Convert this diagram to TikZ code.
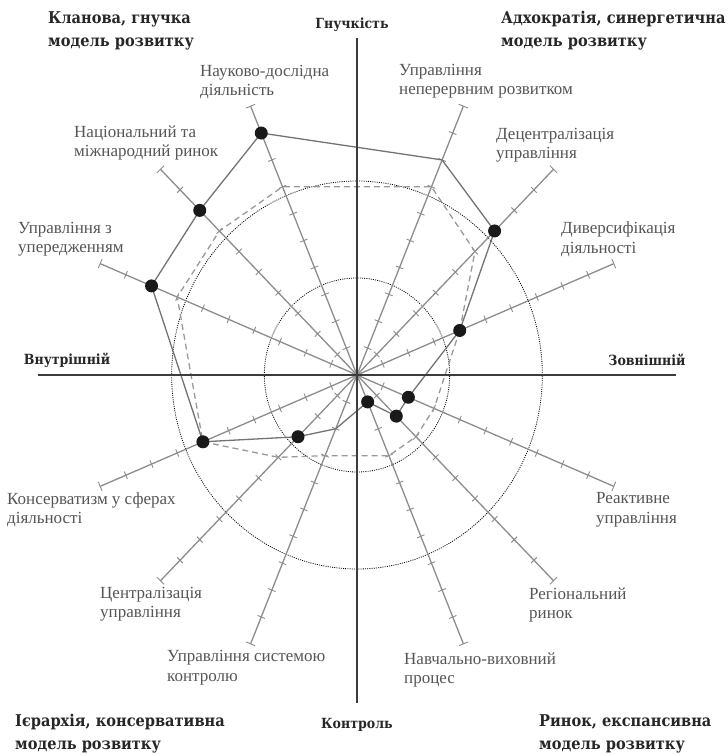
\documentclass[tikz,border=0pt]{standalone}
\usepackage{fontspec}
\setmainfont{Liberation Serif}
\newfontfamily\titlefont{DejaVu Serif Condensed}
\usetikzlibrary{positioning,calc}
\definecolor{spokegray}{HTML}{8C8C8C}
\definecolor{labelgray}{HTML}{555555}
\definecolor{axisgray}{HTML}{3C3C3C}

\begin{document}
\begin{tikzpicture}[x=1pt,y=1pt,
    lbl/.style={inner sep=0pt,align=left,text=labelgray,font=\fontsize{17}{19.5}\selectfont},
    ttl/.style={inner sep=0pt,align=left,text=black!85,font=\titlefont\fontsize{16.2}{23}\selectfont\bfseries},
    axlbl/.style={inner sep=0pt,text=black!85,font=\titlefont\fontsize{14}{16}\selectfont\bfseries},
    spoke/.style={spokegray,line width=1.3pt},
    ticky/.style={spokegray,line width=0.9pt},
    ring/.style={black,line width=0.8pt,dash pattern=on 1pt off 1.2pt},
    norm/.style={black!40,line width=1.3pt,dash pattern=on 6pt off 4pt},
    profile/.style={black!55,line width=1.3pt},
    dot/.style={circle,fill=black!90,inner sep=0pt,minimum size=13pt},
    axis/.style={axisgray,line width=2.4pt}]
\useasboundingbox (-357,-380) rectangle (371,375);

% radar part
\begin{scope}[x=27.8pt,y=29.1pt]
    \coordinate (O) at (0,0);
    \draw[ring] (O) circle (10/3);
    \draw[ring] (O) circle (20/3);
    \foreach \a/\n/\s/\d in {22.5/div/4/4, 45/dec/7/6, 67.5/nep/8/7,
            112.5/nauk/9/7, 135/nac/8/7, 157.5/upr/8/7,
            202.5/kons/6/6, 225/centr/3/4, 247.5/kontr/2/3,
            292.5/navch/1/3, 315/reg/2/3, 337.5/reakt/2/3} {
        \draw[spoke] (O) -- (\a:10) coordinate (e\n);
        \foreach \k in {1,...,9}
            \draw[ticky] ($(\a:\k)+(\a+90:4pt)$) -- ($(\a:\k)+(\a-90:4pt)$);
        \draw[ticky] ($(e\n)+(\a+90:5pt)$) -- ($(e\n)+(\a-90:5pt)$);
        \coordinate (s\n) at (\a:\s);
        \coordinate (d\n) at (\a:\d);
    }
    \draw[norm] (ddiv) -- (ddec) -- (dnep) -- (dnauk) -- (dnac) -- (dupr)
        -- (dkons) -- (dcentr) -- (dkontr) -- (dnavch) -- (dreg) -- (dreakt) -- cycle;
    \draw[profile] (sdiv) -- (sdec) -- (snep) -- (snauk) -- (snac) -- (supr)
        -- (skons) -- (scentr) -- (skontr) -- (snavch) -- (sreg) -- (sreakt) -- cycle;
    \foreach \n in {div,dec,nauk,nac,upr,kons,centr,navch,reg,reakt}
        \node[dot] (p\n) at (s\n) {};
\end{scope}

% axes
\coordinate (W) at (-319,0);
\coordinate (E) at (319,0);
\coordinate (N) at (0,337);
\coordinate (S) at (0,-328);
\draw[axis] (W) -- (E);
\draw[axis] (S) -- (N);

\node[axlbl] (flex) at (-5,350) {Гнучкість};
\node[axlbl] (inner) at (-290,15) {Внутрішній};
\node[axlbl] (outer) at (290,15) {Зовнішній};
\node[axlbl] (ctrl) at (0,-350) {Контроль};

% quadrant titles
\node[ttl,anchor=west] (clan) at (-309,344.5) {Кланова, гнучка\\модель розвитку};
\node[ttl,anchor=west] (adho) at (144,344.5) {Адхократія, синергетична\\модель розвитку};
\node[ttl,anchor=west] (hier) at (-342,-359) {Ієрархія, консервативна\\модель розвитку};
\node[ttl,anchor=west] (mark) at (182,-359) {Ринок, експансивна\\модель розвитку};

% spoke labels
\node[lbl,anchor=west] (lnauk) at (-157,293) {Науково-дослідна\\діяльність};
\node[lbl,anchor=west] (lnac) at (-283,232) {Національний та\\міжнародний ринок};
\node[lbl,anchor=west] (lupr) at (-339,136) {Управління з\\упередженням};
\node[lbl,anchor=west] (lnep) at (42,294) {Управління\\неперервним розвитком};
\node[lbl,anchor=west] (ldec) at (139,230) {Децентралізація\\управління};
\node[lbl,anchor=west] (ldiv) at (204,136) {Диверсифікація\\діяльності};
\node[lbl,anchor=west] (lkons) at (-350,-134.5) {Консерватизм у сферах\\діяльності};
\node[lbl,anchor=west] (lcentr) at (-257,-229) {Централізація\\управління};
\node[lbl,anchor=west] (lkontr) at (-190,-292.5) {Управління системою\\контролю};
\node[lbl,anchor=west] (lreakt) at (239,-135) {Реактивне\\управління};
\node[lbl,anchor=west] (lreg) at (172,-230) {Регіональний\\ринок};
\node[lbl,anchor=west] (lnavch) at (47,-295) {Навчально-виховний\\процес};
\end{tikzpicture}
\end{document}
